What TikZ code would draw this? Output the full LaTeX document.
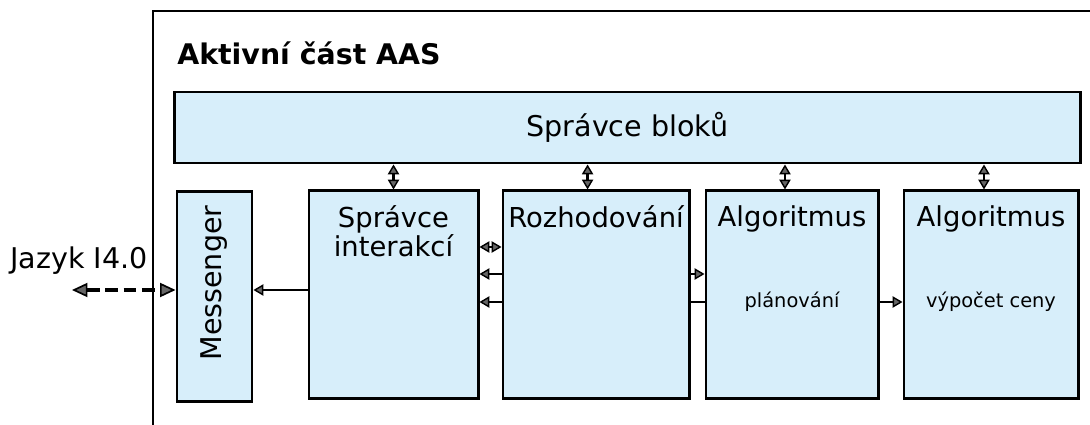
\documentclass[tikz,border=0pt]{standalone}
\usepackage{fontspec}
\setmainfont{DejaVu Sans}
\usepackage{tikz}
\usetikzlibrary{arrows.meta,positioning,backgrounds}
\definecolor{blokmodra}{RGB}{215,238,250}

\begin{document}
\begin{tikzpicture}[x=0.025cm,y=-0.025cm,
  blok/.style={draw=black,line width=2.1pt,fill=blokmodra,inner sep=0pt},
  velky/.style={font=\fontsize{20.3}{20.6}\selectfont,inner sep=0pt},
  stredni/.style={font=\fontsize{19.5}{20.6}\selectfont,inner sep=0pt},
  maly/.style={font=\fontsize{13.8}{16}\selectfont,inner sep=0pt},
  spoj/.style={line width=1.8pt,-{Triangle[length=7pt,width=8pt,fill=black!60,line width=1pt]}},
  dvoj/.style={line width=1.8pt,{Triangle[length=7pt,width=8pt,fill=black!60,line width=1pt]}-{Triangle[length=7pt,width=8pt,fill=black!60,line width=1pt]}},
  carkovany/.style={line width=2.6pt,dash pattern=on 9pt off 4pt,{Triangle[length=11pt,width=10pt,fill=black!60,line width=1.2pt]}-{Triangle[length=11pt,width=10pt,fill=black!60,line width=1.2pt]}}]
\useasboundingbox (0,0) rectangle (1090,425);
\draw[line width=2pt] (153,425) -- (153,11) -- (1090,11);
\node[anchor=base west,inner sep=0pt,font=\fontsize{20.2}{24}\selectfont\bfseries] (nazev) at (177,65) {Aktivní část AAS};
\node[blok,velky,minimum width=22.625cm,minimum height=1.775cm] (bloky) at (627.5,127.5) {Správce bloků};
\node[blok,minimum width=1.875cm,minimum height=5.225cm] (messenger) at (214.5,296.5) {};
\node[velky,rotate=90] at (214,283) {Messenger};
\node[blok,minimum width=4.225cm,minimum height=5.175cm] (interakce) at (393.5,294.5) {};
\node[stredni,align=center,below=0.39cm of interakce.north] {Správce\\interakcí};
\node[blok,minimum width=4.65cm,minimum height=5.175cm] (rozhodovani) at (596,294.5) {};
\node[stredni,below=0.39cm of rozhodovani.north] {Rozhodování};
\node[blok,minimum width=4.3cm,minimum height=5.175cm] (planovani) at (792,294.5) {};
\node[stredni,below=0.39cm of planovani.north] {Algoritmus};
\node[maly,yshift=-5pt] at (planovani) {plánování};
\node[blok,minimum width=4.35cm,minimum height=5.175cm] (cena) at (991,294.5) {};
\node[stredni,below=0.39cm of cena.north] {Algoritmus};
\node[maly,yshift=-5pt] at (cena) {výpočet ceny};
\node[velky,anchor=base west] (jazyk) at (10,269) {Jazyk I4.0};
\coordinate (ven) at (72,290);
\draw[carkovany] (ven) -- (ven -| messenger.west);
\draw[spoj] (interakce.west |- ven) -- (messenger.east |- ven);
\draw[dvoj] (bloky.south -| interakce.north) -- (interakce.north);
\draw[dvoj] ([xshift=-6]bloky.south -| rozhodovani.north) -- ([xshift=-6]rozhodovani.north);
\draw[dvoj] ([xshift=-5]bloky.south -| planovani.north) -- ([xshift=-5]planovani.north);
\draw[dvoj] ([xshift=-5]bloky.south -| cena.north) -- ([xshift=-5]cena.north);
\draw[dvoj] (rozhodovani.west |- 0,247) -- (interakce.east |- 0,247);
\draw[spoj] (rozhodovani.west |- 0,274) -- (interakce.east |- 0,274);
\draw[spoj] (rozhodovani.west |- 0,302) -- (interakce.east |- 0,302);
\draw[spoj] (rozhodovani.east |- 0,274) -- (planovani.west |- 0,274);
\draw[line width=1.8pt] (rozhodovani.east |- 0,302) -- (planovani.west |- 0,302);
\draw[spoj] (planovani.east |- 0,302) -- (cena.west |- 0,302);
\end{tikzpicture}
\end{document}
